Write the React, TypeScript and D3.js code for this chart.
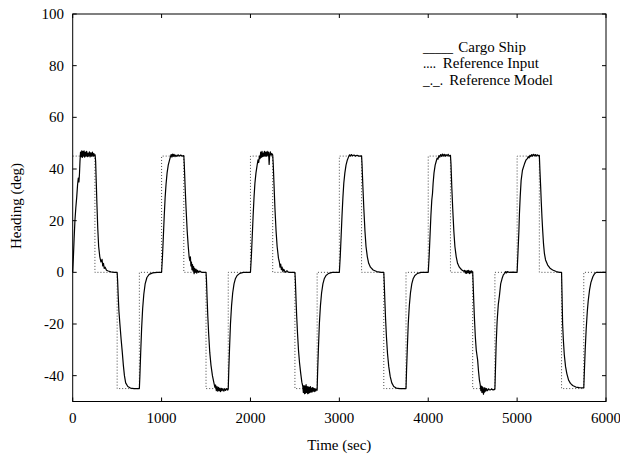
import React from "react";
import * as d3 from "d3";

// Reference input (square wave), step-after
const refTimes = [0, 250, 500, 750, 1000, 1250, 1500, 1750, 2000, 2250, 2500, 2750, 3000, 3250, 3500, 3750, 4000, 4250, 4500, 4750, 5000, 5250, 5500, 5750, 6000];
const refValues = [45, 0, -45, 0, 45, 0, -45, 0, 45, 0, -45, 0, 45, 0, -45, 0, 45, 0, -45, 0, 45, 0, -45, 0, 0];

// Cargo ship heading [time, deg]
const cargoShip: [number, number][] = [
  // cycle 0
  [0, 0], [8, 6], [16, 13], [25, 20], [35, 25], [45, 29], [55, 34], [63, 36.5], [70, 35], [76, 38], [82, 43], [88, 46.5], [95, 44.8], [102, 47], [108, 44.5], [115, 46.8], [122, 45], [128, 47], [135, 44.6], [142, 46.5], [150, 45], [157, 46.8], [165, 44.8], [172, 46.2], [180, 45], [188, 46.6], [196, 44.7], [205, 46.3], [213, 45], [222, 46.5], [230, 44.9], [238, 46], [245, 45.2], [252, 45.5],
  [258, 43], [265, 35], [273, 26], [282, 17], [292, 10], [305, 6], [318, 4], [330, 5], [338, 2.5], [346, 3.5], [355, 1.5], [365, 2], [380, 0.8], [400, 0.5], [430, 0.2], [470, 0], [500, 0],
  [505, -3], [512, -9], [520, -15], [531, -20], [545, -26], [558, -31], [570, -36], [582, -40], [596, -42.8], [620, -44.2], [650, -44.8], [690, -45], [750, -45],
  [756, -40], [765, -31], [775, -22], [787, -14], [800, -8.5], [815, -4.5], [835, -2], [860, -0.8], [900, -0.2], [950, 0], [1000, 0],
  // cycle 1
  [1010, 6], [1020, 14], [1030, 22], [1040, 29], [1050, 34], [1062, 38.5], [1075, 41.5], [1090, 43.5], [1100, 44.8], [1108, 45.6], [1116, 44.6], [1124, 45.8], [1132, 44.9], [1140, 45.7], [1150, 44.8], [1160, 45.4], [1172, 44.9], [1185, 45.5], [1200, 45], [1215, 45.4], [1230, 45], [1250, 45.2],
  [1255, 42], [1265, 33], [1275, 25], [1288, 16], [1300, 10], [1310, 6], [1318, 4.5], [1324, 6], [1330, 2.5], [1336, 4], [1342, 1], [1348, 3], [1354, 0.5], [1360, 2.2], [1366, -0.5], [1372, 1.5], [1380, 0], [1388, 1.2], [1396, -0.3], [1405, 0.8], [1415, 0], [1430, 0.5], [1450, 0], [1500, 0],
  [1505, -3], [1512, -10], [1520, -17], [1530, -24], [1542, -31], [1556, -36], [1572, -40], [1590, -43], [1600, -44.5], [1608, -43.6], [1616, -45.8], [1624, -44.2], [1632, -46], [1640, -44.5], [1648, -45.9], [1656, -44.8], [1664, -46.2], [1672, -44.9], [1680, -45.8], [1690, -45], [1700, -46], [1710, -45.1], [1720, -45.7], [1732, -45], [1745, -45.6], [1750, -45.2],
  [1756, -38], [1765, -29], [1775, -20], [1787, -13], [1800, -8], [1815, -4.5], [1830, -2.5], [1850, -1.2], [1880, -0.4], [1920, 0], [2000, 0],
  // cycle 2
  [2010, 6], [2020, 14], [2030, 22], [2040, 29], [2050, 34.5], [2062, 38.5], [2075, 41.5], [2085, 43.5], [2093, 42.5], [2100, 45], [2108, 44], [2115, 46.5], [2122, 44.5], [2130, 46.8], [2137, 44.8], [2144, 46.2], [2150, 45], [2157, 46.8], [2165, 45], [2172, 46.5], [2180, 45], [2188, 46.8], [2196, 45.2], [2204, 46.5], [2210, 41.8], [2216, 45.5], [2224, 46.6], [2232, 45.3], [2240, 46], [2250, 45.5],
  [2256, 42], [2265, 34], [2275, 25], [2288, 16], [2300, 10], [2315, 5.5], [2325, 4], [2333, 2], [2340, 3.2], [2348, 1], [2356, 2], [2365, 0.3], [2375, 1.2], [2390, 0], [2410, 0.6], [2430, 0], [2500, 0],
  [2505, -3], [2512, -10], [2520, -17], [2530, -24], [2540, -30], [2552, -35], [2565, -39], [2578, -42.5], [2588, -44], [2595, -46.5], [2602, -43.8], [2608, -47], [2614, -44], [2620, -46.8], [2626, -43.5], [2632, -46.5], [2638, -44.2], [2644, -47], [2650, -44.3], [2656, -46.8], [2662, -44.5], [2668, -46.5], [2674, -44.2], [2680, -46.3], [2686, -44.8], [2692, -46.4], [2698, -44.6], [2704, -46], [2710, -44.8], [2718, -46.2], [2726, -45], [2734, -46], [2742, -45.2], [2750, -45.6],
  [2756, -38], [2765, -29], [2775, -20], [2787, -13], [2800, -8], [2815, -4.5], [2830, -2.5], [2850, -1.2], [2880, -0.4], [2920, 0], [3000, 0],
  // cycle 3
  [3010, 6], [3020, 14], [3030, 22], [3040, 29], [3050, 34.5], [3062, 38.5], [3075, 41.5], [3090, 43.5], [3105, 44.8], [3115, 45.5], [3125, 45], [3135, 45.6], [3150, 45.1], [3165, 45.4], [3180, 45], [3200, 45.3], [3220, 45], [3250, 45.1],
  [3255, 42], [3265, 33], [3275, 25], [3288, 16], [3300, 10], [3315, 6], [3330, 3.5], [3350, 2], [3380, 0.9], [3420, 0.3], [3470, 0], [3500, 0],
  [3505, -4], [3512, -11], [3520, -18], [3530, -25], [3542, -31.5], [3556, -36.5], [3572, -40.3], [3590, -42.8], [3612, -44.2], [3640, -44.8], [3680, -45], [3750, -45],
  [3756, -38], [3765, -29], [3775, -20], [3787, -13], [3800, -8], [3815, -4.5], [3830, -2.5], [3850, -1.2], [3880, -0.4], [3920, 0], [4000, 0],
  // cycle 4
  [4010, 6], [4020, 14], [4030, 22], [4040, 28], [4048, 30.5], [4055, 34.5], [4065, 38.5], [4078, 41.5], [4090, 43], [4100, 44.2], [4110, 43.8], [4120, 45.2], [4130, 44.6], [4140, 45.6], [4150, 44.9], [4160, 45.8], [4170, 45], [4180, 45.7], [4190, 44.9], [4200, 45.6], [4212, 45.1], [4224, 45.7], [4236, 45], [4250, 45.3],
  [4256, 42], [4265, 33], [4275, 25], [4288, 16], [4300, 10], [4315, 6], [4330, 3.5], [4350, 2], [4375, 1], [4400, 0.4], [4410, 0.8], [4418, -0.3], [4425, 0.6], [4432, -0.4], [4440, 0.7], [4448, -0.2], [4456, 0.8], [4464, -0.5], [4472, 0.5], [4480, -0.3], [4488, 0.6], [4495, 0], [4500, 0.2],
  [4505, -4], [4512, -11], [4520, -18], [4530, -25], [4540, -30], [4548, -32], [4556, -34], [4565, -38], [4575, -41.5], [4585, -43.5], [4592, -45.8], [4598, -44], [4604, -46.5], [4610, -44.3], [4616, -46.2], [4622, -47.2], [4628, -44.6], [4634, -46.4], [4640, -44.8], [4648, -46], [4656, -45], [4666, -45.8], [4680, -45.2], [4695, -45.6], [4710, -45.2], [4730, -45.5], [4750, -45.3],
  [4756, -38], [4764, -28], [4775, -19], [4788, -12.5], [4801, -9], [4815, -4.5], [4830, -2.5], [4845, -1], [4860, -0.4], [4872, 0.3], [4880, -0.2], [4890, 0.3], [4910, 0], [4950, 0.1], [5000, 0],
  // cycle 5
  [5010, 8], [5020, 16], [5026, 22.7], [5035, 29.5], [5045, 35.5], [5060, 39.5], [5083, 42], [5100, 43.5], [5115, 44], [5125, 44.8], [5135, 44.3], [5145, 45.3], [5155, 44.8], [5165, 45.6], [5175, 45], [5185, 45.7], [5195, 45.1], [5205, 45.6], [5215, 45], [5225, 45.5], [5235, 45.2], [5250, 45.3],
  [5256, 40], [5265, 33], [5272, 27], [5280, 21], [5288, 16], [5297, 11], [5307, 7.3], [5320, 4.8], [5344, 2.8], [5370, 1.6], [5400, 0.9], [5440, 0.3], [5475, 0], [5500, 0],
  [5505, -8], [5512, -20], [5520, -26], [5531, -32], [5545, -36.5], [5560, -39.3], [5580, -41.8], [5600, -43], [5625, -43.8], [5660, -44.4], [5700, -44.6], [5750, -44.7],
  [5757, -38], [5766, -30], [5777, -22], [5790, -15], [5800, -11], [5815, -6.8], [5830, -4], [5852, -1.7], [5870, -0.6], [5890, 0], [6000, 0],
];

const xTicks = [0, 1000, 2000, 3000, 4000, 5000, 6000];
const yTicks = [-40, -20, 0, 20, 40, 60, 80, 100];
const legendLabels = ["Cargo Ship", "Reference Input", "Reference Model"];
const legendMarks = ["_____", "....", "_._."];

const W = 620;
const H = 458;
const left = 72.7, right = 606, top = 14, bottom = 401.5;
const FONT = "'Liberation Serif', 'Times New Roman', serif";

export default function App() {
  const x = d3.scaleLinear().domain([0, 6000]).range([left, right]);
  const y = d3.scaleLinear().domain([-50, 100]).range([bottom, top]);

  const refData = refTimes.map((t, i) => [t, refValues[i]] as [number, number]);
  const refLine = d3.line<[number, number]>().x(d => x(d[0])).y(d => y(d[1])).curve(d3.curveStepAfter);
  const shipLine = d3.line<[number, number]>().x(d => x(d[0])).y(d => y(d[1]));

  const tl = 4;
  const markX = 423;
  const markLen = [30, 13, 20];
  const labelX = [458.3, 442.7, 449.3];
  const baseY = [51.5, 68.1, 84.7];

  return (
    <svg width={W} height={H} style={{ position: "absolute", left: 0, top: 0, background: "#fff" }} fontFamily={FONT}>
      <rect x={0} y={0} width={W} height={H} fill="#fff" />
      {/* reference input */}
      <path d={refLine(refData) || ""} fill="none" stroke="#333" strokeWidth={0.9} strokeDasharray="1,2" />
      {/* cargo ship */}
      <path d={shipLine(cargoShip) || ""} fill="none" stroke="#000" strokeWidth={1.2} strokeLinejoin="round" />
      {/* frame */}
      <rect x={left} y={top} width={right - left} height={bottom - top} fill="none" stroke="#000" strokeWidth={1} />
      {xTicks.map(t => (
        <g key={"x" + t}>
          <line x1={x(t)} x2={x(t)} y1={bottom} y2={bottom - tl} stroke="#000" />
          <line x1={x(t)} x2={x(t)} y1={top} y2={top + tl} stroke="#000" />
          <text x={x(t)} y={423} fontSize={15} textAnchor="middle" fill="#000">{t}</text>
        </g>
      ))}
      {yTicks.map(t => (
        <g key={"y" + t}>
          <line x1={left} x2={left + tl} y1={y(t)} y2={y(t)} stroke="#000" />
          <line x1={right} x2={right - tl} y1={y(t)} y2={y(t)} stroke="#000" />
          <text x={64} y={y(t) + 5} fontSize={15} textAnchor="end" fill="#000">{t}</text>
        </g>
      ))}
      <text x={(left + right) / 2} y={450} fontSize={15} textAnchor="middle" fill="#000">Time (sec)</text>
      <text transform="translate(21,206) rotate(-90)" fontSize={15} textAnchor="middle" fill="#000">Heading (deg)</text>
      {legendLabels.map((lab, i) => (
        <text key={lab} x={markX} y={baseY[i]} fontSize={15} fill="#000">
          <tspan textLength={markLen[i]} lengthAdjust="spacingAndGlyphs">{legendMarks[i]}</tspan>
          <tspan x={labelX[i]}>{lab}</tspan>
        </text>
      ))}
    </svg>
  );
}
